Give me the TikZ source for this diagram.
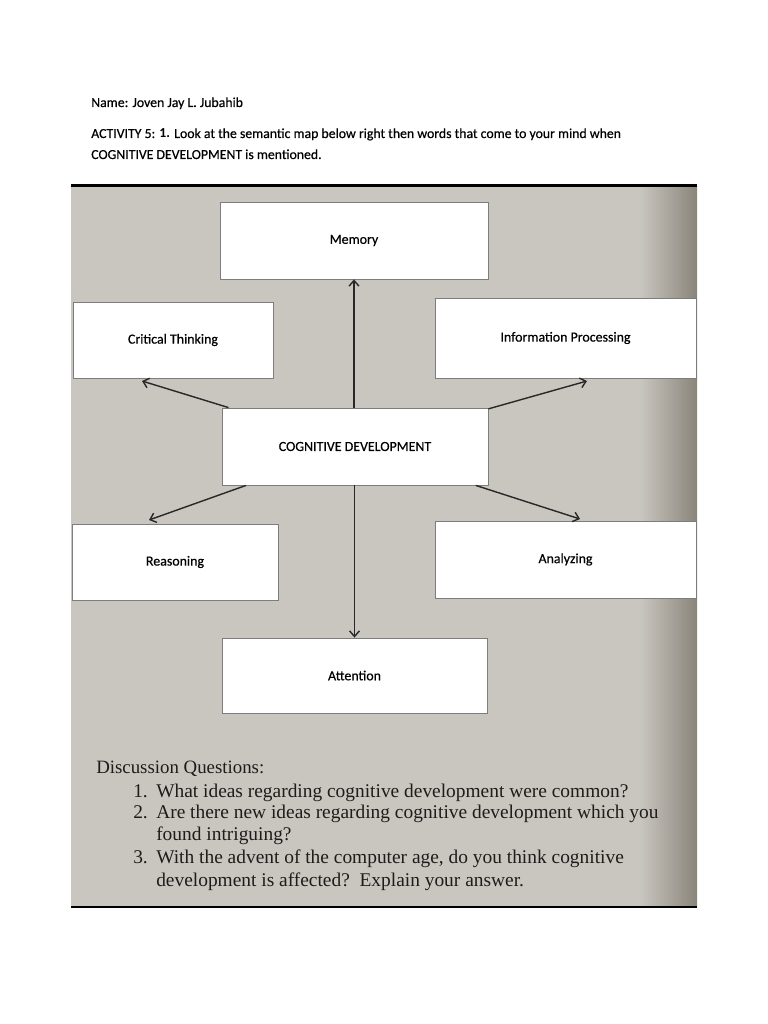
\documentclass[tikz,border=0pt]{standalone}
\usepackage{fontspec}
\setmainfont{Liberation Serif}
\newfontfamily\calfont{Carlito}[BoldFont=Carlito, BoldFeatures={FakeBold=0.45}]
\newfontfamily\calplain{Carlito}
\usetikzlibrary{arrows.meta}

\definecolor{photogray}{RGB}{201,198,192}
\definecolor{shadowgray}{RGB}{138,133,122}
\definecolor{boxedge}{RGB}{125,125,125}
\definecolor{inkline}{RGB}{40,40,40}
\definecolor{printink}{RGB}{30,28,26}

\newdimen\pxu
\pxu=0.025cm
\newcommand{\qnum}[1]{\makebox[23\pxu][l]{#1}}

\tikzset{
  mapbox/.style={draw=boxedge, fill=white, line width=0.6pt, inner sep=0pt,
    font=\calfont\fontsize{9.9}{11}\selectfont\bfseries},
  maparrow/.style={-{Straight Barb[length=4pt,width=7pt]}, draw=inkline, line width=1pt},
  headtext/.style={anchor=base west, inner sep=0pt, font=\calfont\fontsize{9.8}{12}\selectfont\bfseries},
  questext/.style={anchor=base west, inner sep=0pt, text=printink,
    font=\fontsize{13.8}{15}\selectfont},
}

\begin{document}
\begin{tikzpicture}[x=1\pxu, y=-1\pxu]
\useasboundingbox (0,0) rectangle (768,1024);

% heading
\node[headtext] (name) at (91,107) {Name: Joven Jay L. Jubahib};
\node[headtext] (act) at (91,138) {ACTIVITY 5: {\calplain\bfseries 1.} Look at the semantic map below right then words that come to your mind when};
\node[headtext] (act2) at (91,159) {COGNITIVE DEVELOPMENT is mentioned.};

% photo of the page
\fill[photogray] (71,187) rectangle (697,906);
\shade[left color=photogray, right color=shadowgray] (640,187) rectangle (697,906);
\draw[line width=3\pxu] (71,186) -- (697,186);
\draw[line width=2.5\pxu] (71,907) -- (697,907);

% semantic map
\node[mapbox, minimum width=268\pxu, minimum height=77\pxu] (mem) at (354,240.5) {Memory};
\node[mapbox, minimum width=200\pxu, minimum height=76\pxu] (crit) at (173,340) {Critical Thinking};
\node[mapbox, minimum width=261\pxu, minimum height=80\pxu] (info) at (565.5,338) {Information Processing};
\node[mapbox, minimum width=266\pxu, minimum height=77\pxu] (cog) at (355,446.5) {COGNITIVE DEVELOPMENT};
\node[mapbox, minimum width=206\pxu, minimum height=76\pxu] (reas) at (175,562) {Reasoning};
\node[mapbox, minimum width=261\pxu, minimum height=77\pxu] (anal) at (565.5,559.5) {Analyzing};
\node[mapbox, minimum width=265\pxu, minimum height=75\pxu] (att) at (354.5,675.5) {Attention};

\coordinate (ct) at (142,381);
\coordinate (ip) at (587,381);
\coordinate (rs) at (149,520);
\coordinate (an) at (580,519);

\draw[maparrow] (cog.north -| mem.south) -- (mem.south);
\draw[maparrow] (cog.south -| att.north) -- (att.north);
\draw[maparrow] (cog) -- (ct);
\draw[maparrow] (cog) -- (ip);
\draw[maparrow] (cog) -- (rs);
\draw[maparrow] (cog) -- (an);

% questions
\node[questext, font=\fontsize{13.4}{15}\selectfont] (dq) at (96,773) {Discussion Questions:};
\node[questext] (q1) at (133,797) {\qnum{1.}What ideas regarding cognitive development were common?};
\node[questext] (q2) at (133,818) {\qnum{2.}Are there new ideas regarding cognitive development which you};
\node[questext] (q2b) at (156,840) {found intriguing?};
\node[questext] (q3) at (133,863) {\qnum{3.}With the advent of the computer age, do you think cognitive};
\node[questext] (q3b) at (156,886) {development is affected?\ \ Explain your answer.};

\end{tikzpicture}
\end{document}
